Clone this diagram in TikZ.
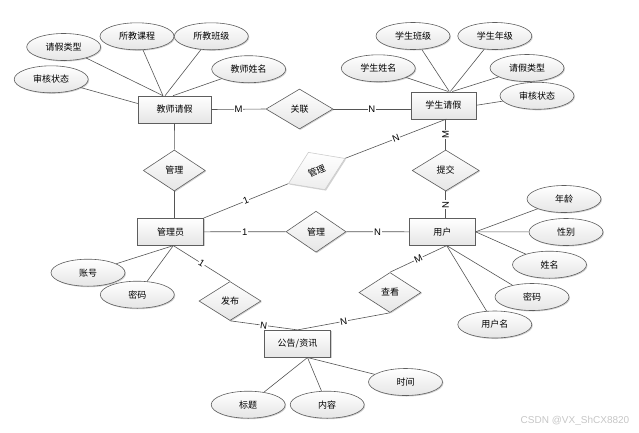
\documentclass[tikz,border=0pt]{standalone}
\usepackage{fontspec}
\setmainfont{Liberation Sans}
\newfontfamily\cjk{Noto Sans CJK SC}
\usetikzlibrary{shapes.geometric,shadows}
\definecolor{edgec}{HTML}{5E5E5E}
\definecolor{linec}{HTML}{555555}
\tikzset{
 base/.style={draw=edgec, line width=0.6pt, top color=white, bottom color=gray!20,
   font=\cjk\fontsize{9}{10}\selectfont, inner sep=0pt,
   drop shadow={shadow xshift=1pt,shadow yshift=-1pt,fill=black,opacity=0.18}},
 entity/.style={base, rectangle, minimum width=66pt, minimum height=27pt},
 attr/.style={base, ellipse, minimum width=74pt, minimum height=27pt},
 rel/.style={base, diamond, minimum width=62pt, minimum height=40pt},
 conn/.style={draw=linec, line width=0.6pt},
 card/.style={fill=white, inner sep=0.8pt, font=\fontsize{9.5}{10}\selectfont, text=black},
}
\begin{document}
\begin{tikzpicture}[x=1pt,y=-1pt]
\useasboundingbox (0,0) rectangle (639,432);
% entities
\node[entity, minimum width=73pt] (jsqj) at (174.5,109.5) {教师请假};
\node[entity, minimum width=65pt] (xsqj) at (443.3,105.3) {学生请假};
\node[entity] (gly) at (170.5,231.8) {管理员};
\node[entity] (yh) at (442.3,231.8) {用户};
\node[entity] (ggzx) at (297.5,343.7) {公告/资讯};
% relationships
\node[rel, minimum width=67pt] (gl) at (299.5,109) {关联};
\node[rel, minimum height=41pt] (gl1) at (174.3,170.5) {管理};
\node[rel, minimum width=67pt, minimum height=41pt] (tj) at (445.7,170.5) {提交};
\node[rel, minimum width=60pt, minimum height=41pt] (gl2) at (316,231.7) {管理};
\node[rel, rotate=24, draw=gray!40, bottom color=gray!14, minimum height=41pt] (gl3) at (316.7,171) {管理};
\node[rel, minimum height=39pt] (fb) at (230,301) {发布};
\node[rel] (ck) at (390,292.5) {查看};
% attributes
\node[attr] (qjlx1) at (63.7,47) {请假类型};
\node[attr] (sjkc) at (137,36.3) {所教课程};
\node[attr] (sjbj) at (211.3,36.3) {所教班级};
\node[attr] (jsxm) at (248.7,69.2) {教师姓名};
\node[attr] (shzt1) at (51.2,79.3) {审核状态};
\node[attr] (xsbj) at (413,36) {学生班级};
\node[attr] (xsnj) at (494.8,36) {学生年级};
\node[attr] (xsxm) at (378.3,68.3) {学生姓名};
\node[attr] (qjlx2) at (527,68) {请假类型};
\node[attr] (shzt2) at (537,95.8) {审核状态};
\node[attr] (nl) at (564,199) {年龄};
\node[attr] (xb) at (566,232) {性别};
\node[attr] (xm) at (549.5,264.7) {姓名};
\node[attr] (mm2) at (532,297) {密码};
\node[attr] (yhm) at (494.8,324.5) {用户名};
\node[attr] (zh) at (88,272.7) {账号};
\node[attr] (mm1) at (137.3,294.7) {密码};
\node[attr] (bt) at (248.2,404.7) {标题};
\node[attr] (nr) at (327.2,404.7) {内容};
\node[attr] (sj) at (405.5,382) {时间};
% attribute connectors
\draw[conn] (qjlx1) -- ([xshift=-11.5pt]jsqj.north);
\draw[conn] (sjkc) -- ([xshift=-11.5pt]jsqj.north);
\draw[conn] (sjbj) -- ([xshift=-9.5pt]jsqj.north);
\draw[conn] (jsxm) -- ([xshift=-1.5pt]jsqj.north);
\draw[conn] (shzt1) -- ([yshift=6pt]jsqj.west);
\draw[conn] (xsxm) -- ([xshift=5pt]xsqj.north);
\draw[conn] (xsbj) -- ([xshift=6pt]xsqj.north);
\draw[conn] (xsnj) -- ([xshift=7pt]xsqj.north);
\draw[conn] (qjlx2) -- ([xshift=9pt]xsqj.north);
\draw[conn] (shzt2) -- (xsqj.east);
\draw[conn] (nl) -- (yh.east);
\draw[conn] (xb) -- (yh.east);
\draw[conn] (xm) -- (yh.east);
\draw[conn] (mm2) -- ([xshift=4.4pt]yh.south);
\draw[conn] (yhm) -- ([xshift=4.4pt]yh.south);
\draw[conn] (zh) -- ([xshift=2.8pt]gly.south);
\draw[conn] (mm1) -- ([xshift=2.8pt]gly.south);
\draw[conn] (bt) -- ([xshift=10pt]ggzx.south);
\draw[conn] (nr) -- ([xshift=10pt]ggzx.south);
\draw[conn] (sj) -- ([xshift=10pt]ggzx.south);
% relationship connectors
\draw[conn] (jsqj.east) -- node[card]{M} (gl.west);
\draw[conn] (gl.east) -- node[card]{N} (gl.east -| xsqj.west);
\draw[conn] (jsqj.south) -- (gl1.north);
\draw[conn] (gl1.south) -- (gl1.south |- gly.north);
\draw[conn] (gly.east) -- node[card]{1} (gl2.west);
\draw[conn] (gl2.east) -- node[card]{N} (yh.west);
\draw[conn] (gly.north east) -- node[card,sloped]{1} (gl3.west);
\draw[conn] (gl3.east) -- node[card,sloped]{N} ([xshift=3pt]xsqj.south);
\draw[conn] (tj.north) -- node[card,rotate=90]{M} (tj.north |- xsqj.south);
\draw[conn] (tj.south) -- node[card,rotate=90]{N} (tj.south |- yh.north);
\draw[conn] ([xshift=4.4pt]yh.south) -- node[card,sloped]{M} (ck.north);
\draw[conn] (fb.south) -- node[card,sloped]{N} (ggzx.north);
\draw[conn] (ck.south) -- node[card,sloped]{N} (ggzx.north);
\draw[conn] ([xshift=2.8pt]gly.south) -- node[card,sloped]{1} (fb.north);
% watermark
\node[font=\fontsize{10}{12}\selectfont, text=gray!45, inner sep=0pt] (wm) at (575,421) {CSDN @VX\_ShCX8820};
\end{tikzpicture}
\end{document}
